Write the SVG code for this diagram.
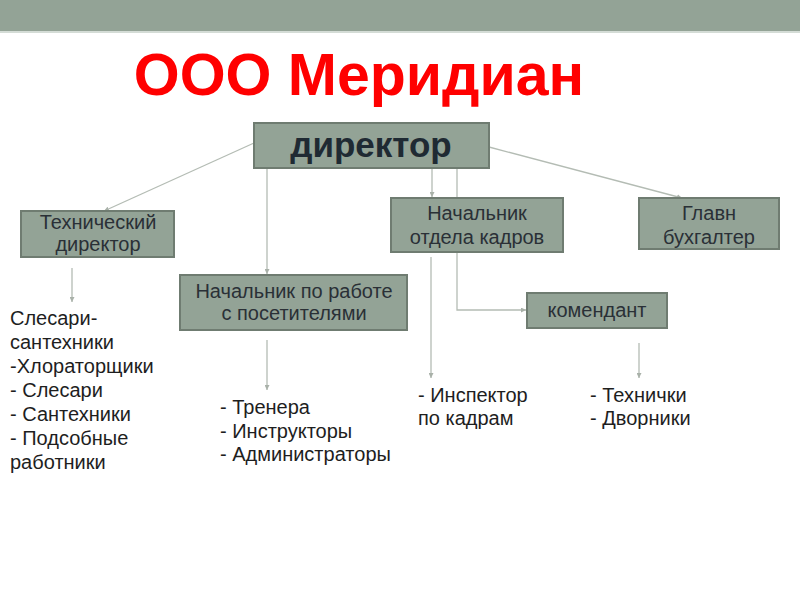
<svg xmlns="http://www.w3.org/2000/svg" width="800" height="600" viewBox="0 0 800 600">
<defs>
<marker id="ah" viewBox="0 0 6 6" refX="6" refY="3" markerWidth="5" markerHeight="5" orient="auto" markerUnits="userSpaceOnUse">
<path d="M0,0 L6,3 L0,6 z" fill="#a9b1a9"/>
</marker>
<style>
.box{fill:#93a396;stroke:#6f7c71;stroke-width:2}
.bt{font-family:"Liberation Sans",Arial,sans-serif;font-size:20px;fill:#2a3036;text-anchor:middle}
.lt{font-family:"Liberation Sans",Arial,sans-serif;font-size:20px;fill:#1e1e1e}
.cn{fill:none;stroke:#b4bcb4;stroke-width:1.3}
.ar{marker-end:url(#ah)}
</style>
</defs>
<rect x="0" y="0" width="800" height="31" fill="#93a396"/>
<rect x="0" y="31" width="800" height="2" fill="#d4dcd6"/>
<text x="359" y="95" font-family="'Liberation Sans',Arial,sans-serif" font-size="59" font-weight="bold" fill="#ff0000" text-anchor="middle">ООО Меридиан</text>
<g id="connectors">
<line class="cn ar" x1="254" y1="143" x2="104" y2="211"/>
<line class="cn ar" x1="267" y1="168" x2="267" y2="274"/>
<line class="cn ar" x1="432" y1="168" x2="432" y2="197"/>
<polyline class="cn ar" points="457,168 457,310 526,310"/>
<line class="cn ar" x1="489" y1="147" x2="682" y2="198"/>
<line class="cn ar" x1="72" y1="268" x2="72" y2="302"/>
<line class="cn ar" x1="267" y1="340" x2="267" y2="390"/>
<line class="cn ar" x1="431" y1="257" x2="431" y2="378"/>
<line class="cn ar" x1="639" y1="343" x2="639" y2="378"/>
</g>
<g id="director">
<rect class="box" x="254" y="123" width="235" height="45"/>
<text x="371" y="157" font-family="'Liberation Sans',Arial,sans-serif" font-size="35" font-weight="bold" fill="#1f2a33" text-anchor="middle">директор</text>
</g>
<g id="tech-director">
<rect class="box" x="21" y="211" width="153" height="46"/>
<text class="bt" x="98" y="229" font-size="19">Технический</text>
<text class="bt" x="98" y="251">директор</text>
</g>
<g id="visitors-head">
<rect class="box" x="180" y="275" width="227" height="55"/>
<text class="bt" x="294" y="298">Начальник по работе</text>
<text class="bt" x="294" y="320">с посетителями</text>
</g>
<g id="hr-head">
<rect class="box" x="391" y="198" width="172" height="54"/>
<text class="bt" x="477" y="220">Начальник</text>
<text class="bt" x="477" y="244">отдела кадров</text>
</g>
<g id="accountant">
<rect class="box" x="639" y="198" width="140" height="51"/>
<text class="bt" x="709" y="220">Главн</text>
<text class="bt" x="709" y="244">бухгалтер</text>
</g>
<g id="commandant">
<rect class="box" x="527" y="293" width="140" height="35"/>
<text class="bt" x="597" y="317">комендант</text>
</g>
<g id="list-tech">
<text class="lt" x="10" y="325">Слесари-</text>
<text class="lt" x="10" y="349">сантехники</text>
<text class="lt" x="10" y="373">-Хлораторщики</text>
<text class="lt" x="10" y="397">- Слесари</text>
<text class="lt" x="10" y="421">- Сантехники</text>
<text class="lt" x="10" y="445">- Подсобные</text>
<text class="lt" x="10" y="469">работники</text>
</g>
<g id="list-visitors">
<text class="lt" x="220" y="414">- Тренера</text>
<text class="lt" x="220" y="438">- Инструкторы</text>
<text class="lt" x="220" y="461">- Администраторы</text>
</g>
<g id="list-hr">
<text class="lt" x="418" y="402">- Инспектор</text>
<text class="lt" x="418" y="425">по кадрам</text>
</g>
<g id="list-commandant">
<text class="lt" x="590" y="402">- Технички</text>
<text class="lt" x="590" y="425">- Дворники</text>
</g>
</svg>
